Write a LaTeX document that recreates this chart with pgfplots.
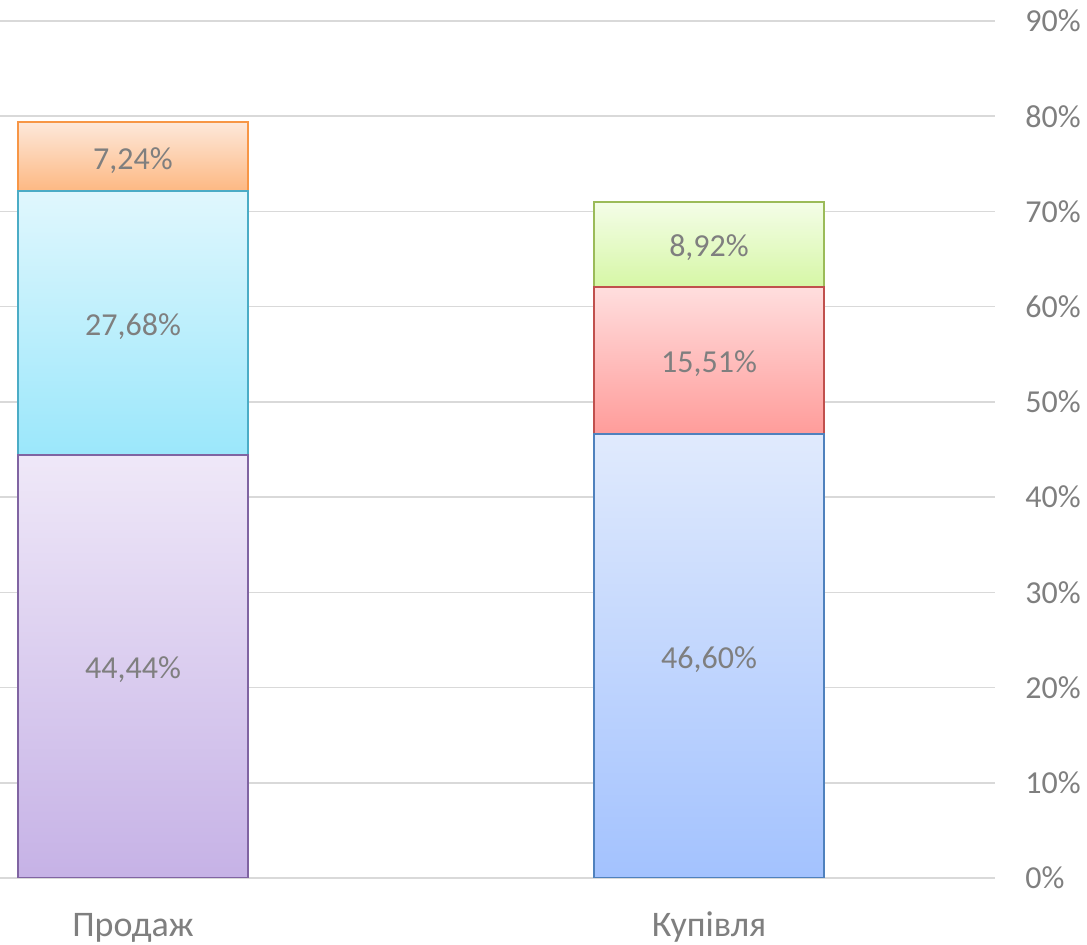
\documentclass[border=0pt]{standalone}
\usepackage{fontspec}
\setmainfont{Carlito}
\usepackage{pgfplots}
\pgfplotsset{compat=1.18}
\definecolor{txt}{HTML}{7F7F7F}
\definecolor{gridc}{HTML}{D9D9D9}
\definecolor{purT}{HTML}{EFE8F8}\definecolor{purB}{HTML}{C6B2E6}\definecolor{purE}{HTML}{8064A2}
\definecolor{cyaT}{HTML}{E0F7FD}\definecolor{cyaB}{HTML}{9BE7FB}\definecolor{cyaE}{HTML}{4BACC6}
\definecolor{oraT}{HTML}{FDE8DA}\definecolor{oraB}{HTML}{FDB882}\definecolor{oraE}{HTML}{F79646}
\definecolor{bluT}{HTML}{E0EAFD}\definecolor{bluB}{HTML}{A3C2FE}\definecolor{bluE}{HTML}{4F81BD}
\definecolor{redT}{HTML}{FFDEDE}\definecolor{redB}{HTML}{FF9C9A}\definecolor{redE}{HTML}{C0504D}
\definecolor{greT}{HTML}{F4FDE8}\definecolor{greB}{HTML}{D6F7A6}\definecolor{greE}{HTML}{9BBB59}
\pgfplotsset{
  base/.style={
    width=497.5pt, height=428.5pt, scale only axis,
    at={(0,0)}, anchor=south west,
    xmin=-0.2309, xmax=1.4965, ymin=0, ymax=90,
    ybar stacked, bar width=115pt,
    nodes near coords style={anchor=center, yshift=-1.75pt, font=\fontsize{16}{18}\selectfont, text=txt},
  }
}
\begin{document}
\begin{tikzpicture}
\path[use as bounding box] (0,-33.5pt) rectangle (543.5pt,439pt);
\begin{axis}[base,
  axis line style={draw=none},
  major tick length=0pt,
  ymajorgrids, grid style={gridc, line width=0.75pt},
  ytick={0,10,...,90},
  yticklabels={0\%,10\%,20\%,30\%,40\%,50\%,60\%,70\%,80\%,90\%},
  yticklabel pos=right,
  yticklabel style={anchor=west, inner sep=0pt, xshift=15pt, text=txt, font=\fontsize{16}{18}\selectfont},
  xtick={0,1},
  xticklabels={Продаж,Купівля},
  xticklabel style={anchor=base, inner sep=0pt, yshift=-29.5pt, text=txt, font=\fontsize{18}{21}\selectfont},
]
\addplot[draw=purE, line width=1pt, top color=purT, bottom color=purB,
  nodes near coords={44,44\%}]
  coordinates {(0,44.44)};
\addplot[draw=cyaE, line width=1pt, top color=cyaT, bottom color=cyaB,
  nodes near coords={27,68\%}]
  coordinates {(0,27.68)};
\addplot[draw=oraE, line width=1pt, top color=oraT, bottom color=oraB,
  nodes near coords={7,24\%}]
  coordinates {(0,7.24)};
\end{axis}
\begin{axis}[base, hide axis]
\addplot[draw=bluE, line width=1pt, top color=bluT, bottom color=bluB,
  nodes near coords={46,60\%}]
  coordinates {(1,46.60)};
\addplot[draw=redE, line width=1pt, top color=redT, bottom color=redB,
  nodes near coords={15,51\%}]
  coordinates {(1,15.51)};
\addplot[draw=greE, line width=1pt, top color=greT, bottom color=greB,
  nodes near coords={8,92\%}]
  coordinates {(1,8.92)};
\end{axis}
\end{tikzpicture}
\end{document}
